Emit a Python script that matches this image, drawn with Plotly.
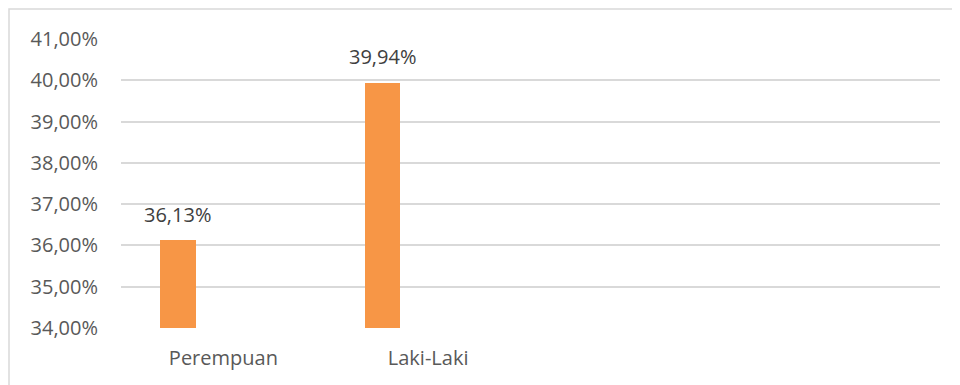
import plotly.graph_objects as go

categories = ["Perempuan", "Laki-Laki", "", ""]
values = [36.13, 39.94]
y_tick_values = [34, 35, 36, 37, 38, 39, 40, 41]
y_tick_labels = ["34,00%", "35,00%", "36,00%", "37,00%", "38,00%", "39,00%", "40,00%", "41,00%"]

bar_offset = -0.2225
bar_width = 0.174
positions = [i + bar_offset for i in range(len(values))]
value_labels = [f"{v:.2f}".replace(".", ",") + "%" for v in values]

FONT = "Open Sans"
TXT = "#595959"
GRID = "#d9d9d9"

# page body has an 8px margin: figure coordinates = screen - 8
L, T, R, B = 113, 31, 28, 65
PW = 960 - L - R
PH = 385 - T - B

fig = go.Figure()
fig.add_trace(go.Bar(
    x=positions, y=values, width=bar_width,
    marker=dict(color="#F79646", line=dict(width=0)),
    hoverinfo="skip",
))

for x, y, t in zip(positions, values, value_labels):
    fig.add_annotation(x=x, y=y, text=t, showarrow=False, yanchor="middle",
                       yshift=26, font=dict(family=FONT, size=20, color="#404040"))

fig.update_layout(
    width=960, height=385,
    margin=dict(l=L, r=R, t=T, b=B),
    paper_bgcolor="white", plot_bgcolor="white",
    showlegend=False,
    font=dict(family=FONT, size=20, color=TXT),
    bargap=0,
    xaxis=dict(range=[-0.5, len(categories) - 0.5],
               tickvals=list(range(len(categories))), ticktext=categories,
               showgrid=False, zeroline=False, showline=False, ticks="",
               ticklabelstandoff=16,
               tickfont=dict(family=FONT, size=20, color=TXT)),
    yaxis=dict(range=[34, 41], tickvals=y_tick_values, ticktext=y_tick_labels,
               showgrid=True, gridcolor=GRID, gridwidth=1.5, zeroline=False,
               showline=False, ticks="", ticklabelstandoff=22,
               tickfont=dict(family=FONT, size=20, color=TXT)),
    shapes=[dict(type="rect", xref="paper", yref="paper",
                 x0=(1 - L) / PW, x1=(975 - L) / PW,
                 y0=(PH + T - 400) / PH, y1=(PH + T - 1) / PH,
                 line=dict(color=GRID, width=1.5), fillcolor="rgba(0,0,0,0)",
                 layer="below")],
)

fig.write_html("out.html")
